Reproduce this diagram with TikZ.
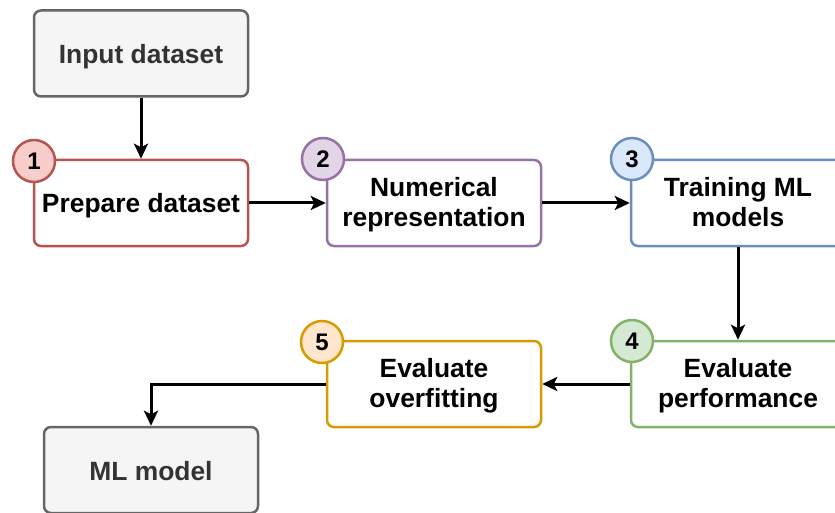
\documentclass[tikz,border=0pt]{standalone}
\usepackage{fontspec}
\setmainfont{Liberation Sans}
\usetikzlibrary{arrows.meta}
\definecolor{grayfill}{HTML}{F5F5F5}
\definecolor{graystroke}{HTML}{666666}
\definecolor{graytext}{HTML}{333333}
\definecolor{redfill}{HTML}{F8CECC}
\definecolor{redstroke}{HTML}{B85450}
\definecolor{purplefill}{HTML}{E1D5E7}
\definecolor{purplestroke}{HTML}{9673A6}
\definecolor{bluefill}{HTML}{DAE8FC}
\definecolor{bluestroke}{HTML}{6C8EBF}
\definecolor{greenfill}{HTML}{D5E8D4}
\definecolor{greenstroke}{HTML}{82B366}
\definecolor{orangefill}{HTML}{FFE6CC}
\definecolor{orangestroke}{HTML}{D79B00}
\tikzset{
  % the strut fixes the label's height and depth around its last baseline,
  % so every label sits at the same level in its box
  box/.style={rectangle, rounded corners=7pt, line width=2.5pt, fill=white,
    minimum width=214pt, minimum height=86pt, inner sep=0pt, align=center,
    font=\fontsize{26.4}{30}\selectfont\bfseries,
    execute at begin node={\rule[-6pt]{0pt}{32pt}}},
  twoline/.style={execute at begin node={\rule[-6pt]{0pt}{59.4pt}}},
  databox/.style={box, draw=graystroke, fill=grayfill, text=graytext},
  stepbox/.style={box, draw=#1stroke},
  badge/.style={circle, minimum size=42pt, inner sep=0pt, line width=2.5pt,
    draw=#1stroke, fill=#1fill, font=\fontsize{24}{28}\selectfont\bfseries},
  arr/.style={line width=3pt, -{Stealth[length=15pt, width=14pt, inset=3.5pt]}},
}
\begin{document}
\begin{tikzpicture}[x=1pt, y=-1pt]
  \useasboundingbox (0,0) rectangle (835,513);
  \clip (0,0) rectangle (835,513);

  % process boxes
  \node[databox] (inp) at (141,53.5) {Input dataset};
  \node[stepbox=red] (prep) at (141,203) {Prepare dataset};
  \node[stepbox=purple, twoline] (num) at (434,203) {Numerical\\representation};
  \node[stepbox=blue, twoline] (train) at (738,203) {Training ML\\models};
  \node[stepbox=green, twoline] (perf) at (738,384) {Evaluate\\performance};
  \node[stepbox=orange, twoline] (over) at (434,384) {Evaluate\\overfitting};
  \node[databox] (ml) at (151,470) {ML model};

  % connectors
  \draw[arr] (inp) -- (prep);
  \draw[arr] (prep) -- (num);
  \draw[arr] (num) -- (train);
  \draw[arr] (train) -- (perf);
  \draw[arr] (perf) -- (over);
  \draw[arr] (over.west) -| (ml.north);

  % step numbers
  \node[badge=red] (b1) at (34,161) {1};
  \node[badge=purple] (b2) at (323,159) {2};
  \node[badge=blue] (b3) at (632,159) {3};
  \node[badge=green] (b4) at (632,341) {4};
  \node[badge=orange] (b5) at (322,342) {5};
\end{tikzpicture}
\end{document}
